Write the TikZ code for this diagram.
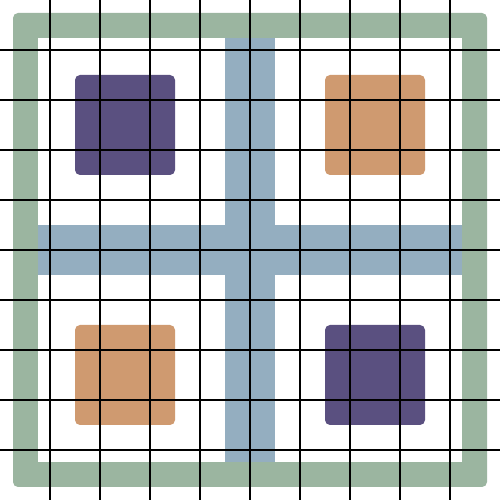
\documentclass[tikz,border=0pt]{standalone}
\definecolor{framegreen}{RGB}{155,181,160}
\definecolor{crossblue}{RGB}{148,174,192}
\definecolor{tilepurple}{RGB}{90,80,128}
\definecolor{tileorange}{RGB}{207,154,112}
\tikzset{
  frame/.style={fill=framegreen, rounded corners=0.1cm},
  crossbar/.style={fill=crossblue},
  tile/.style={rounded corners=0.1cm},
  gridline/.style={draw=black, line width=0.8pt}
}
\begin{document}
\begin{tikzpicture}
\useasboundingbox (0,0) rectangle (10,10);
\fill[white] (0,0) rectangle (10,10);
% frame
\path[frame] (0.26,0.26) rectangle (9.74,9.74);
\fill[white] (0.76,0.76) rectangle (9.24,9.24);
% cross
\path[crossbar] (4.5,0.76) rectangle (5.5,9.24);
\path[crossbar] (0.76,4.5) rectangle (9.24,5.5);
% tiles
\fill[tile, tilepurple] (1.5,6.5) rectangle (3.5,8.5);
\fill[tile, tileorange] (6.5,6.5) rectangle (8.5,8.5);
\fill[tile, tileorange] (1.5,1.5) rectangle (3.5,3.5);
\fill[tile, tilepurple] (6.5,1.5) rectangle (8.5,3.5);
% grid
\foreach \i in {1,...,9} {
  \draw[gridline] (\i,0) -- (\i,10);
  \draw[gridline] (0,\i) -- (10,\i);
}
\end{tikzpicture}
\end{document}
